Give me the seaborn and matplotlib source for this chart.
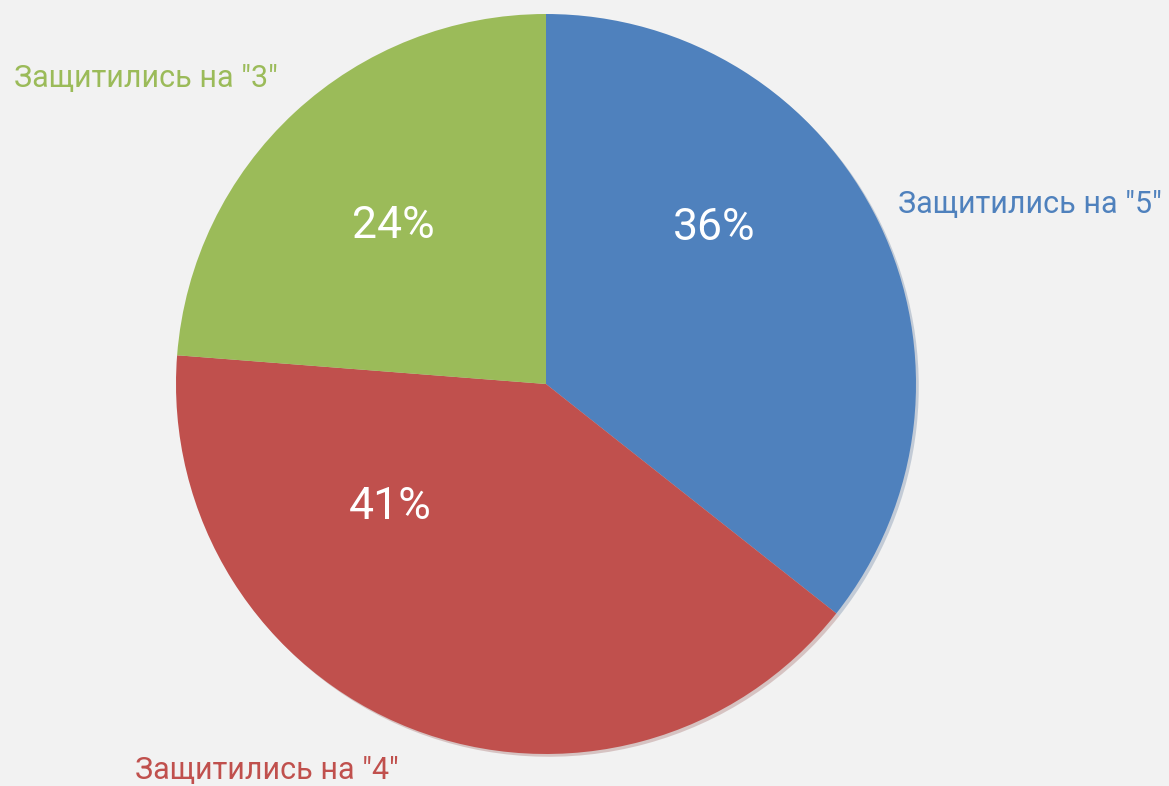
import matplotlib
matplotlib.use("Agg")
import matplotlib.pyplot as plt
import seaborn as sns

# data
grades = ['Защитились на "5"', 'Защитились на "4"', 'Защитились на "3"']
shares = [36, 41, 24]
colors = ["#4F81BD", "#C0504D", "#9BBB59"]

sns.set_theme(style="white")
plt.rcParams['font.family'] = ['Roboto', 'DejaVu Sans']

fig = plt.figure(figsize=(11.69, 7.86), dpi=100, facecolor="#F2F2F2")
ax = fig.add_axes([0, 0, 1, 1])
ax.set_facecolor("#F2F2F2")

wedges, texts, autotexts = ax.pie(
    shares, colors=colors, startangle=90, counterclock=False,
    center=(546, 402), radius=370, frame=True,
    autopct=lambda p: f"{p:.0f}%", pctdistance=0.6,
    wedgeprops=dict(linewidth=0),
    shadow=dict(ox=2, oy=-2, shade=0.3, alpha=0.25),
    textprops=dict(color="white", fontsize=32),
)
ax.set_xlim(0, 1169)
ax.set_ylim(0, 786)
ax.set_aspect("equal")
ax.axis("off")

# percent labels placed like the original (pixel positions)
pct_pos = [(714, 558), (390, 279), (393, 560)]
for t, (x, y) in zip(autotexts, pct_pos):
    t.set_position((x, y))
    t.set_ha("center")
    t.set_va("center")

# outside category labels
cat_pos = [(1162, 581, "right"), (135, 15, "left"), (14, 708, "left")]
for name, c, (x, y, ha) in zip(grades, colors, cat_pos):
    ax.text(x, y, name, color=c, fontsize=22, ha=ha, va="center")

fig.savefig("out.png", dpi=100, facecolor=fig.get_facecolor())
